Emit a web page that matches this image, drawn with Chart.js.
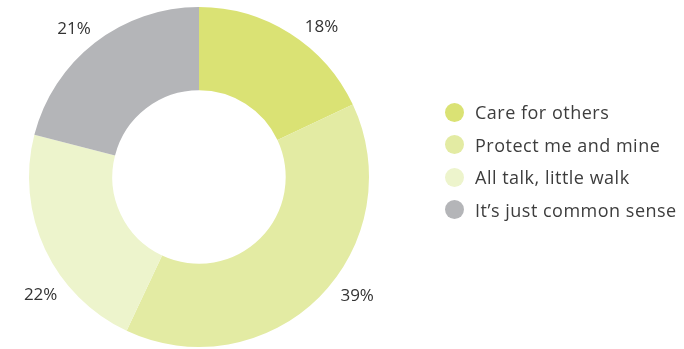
<!DOCTYPE html>
<html>
<head>
<meta charset="utf-8">
<script src="https://cdn.jsdelivr.net/npm/chart.js@4"></script>
<style>
  html, body { margin: 0; padding: 0; background: #fff; }
  #wrap { position: relative; width: 684px; height: 349px; }
  #chart { position: absolute; left: 0; top: 0; }
  #legend { position: absolute; left: 445px; top: 96px; list-style: none; margin: 0; padding: 0;
    font-family: 'Open Sans', sans-serif; font-size: 18px; letter-spacing: 0.5px; color: #3d3d3d; }
  #legend li { height: 32.5px; display: flex; align-items: center; white-space: nowrap; }
  #legend .dot { width: 19px; height: 19px; border-radius: 50%; margin-right: 11px; flex: none; }
</style>
</head>
<body>
<div id="wrap">
  <canvas id="chart" width="684" height="349"></canvas>
  <ul id="legend"></ul>
</div>
<script>
  const LABELS = ['Care for others', 'Protect me and mine', 'All talk, little walk', "It’s just common sense"];
  const VALUES = [18, 39, 22, 21];
  const COLORS = ['#dae274', '#e3eba3', '#edf4cc', '#b4b5b8'];

  /* ── Legend ── */
  const legendEl = document.getElementById('legend');
  LABELS.forEach((name, i) => {
    const li = document.createElement('li');
    li.innerHTML = `<span class="dot" style="background:${COLORS[i]}"></span>`;
    li.appendChild(document.createTextNode(name));
    legendEl.appendChild(li);
  });

  /* ── Chart ── */
  const ctx = document.getElementById('chart').getContext('2d');
  new Chart(ctx, {
    type: 'doughnut',
    data: {
      labels: LABELS,
      datasets: [{
        data: VALUES,
        backgroundColor: COLORS,
        borderWidth: 0,
      }]
    },
    options: {
      responsive: false,
      animation: false,
      cutout: '51%',
      layout: { padding: { left: 29, right: 315, top: 7, bottom: 2 } },
      plugins: {
        legend: { display: false },
        tooltip: { enabled: false }
      }
    },
    // percentage labels outside the ring
    plugins: [{
      id: 'outerLabels',
      afterDatasetsDraw(chart) {
        const { ctx } = chart;
        const nudge = [6.3, -8.8, -10.9, -1.8]; // degrees, to sit labels like the original
        const meta = chart.getDatasetMeta(0);
        meta.data.forEach((arc, i) => {
          const mid = (arc.startAngle + arc.endAngle) / 2 + nudge[i] * Math.PI / 180;
          const r = arc.outerRadius + 26;
          const x = arc.x + Math.cos(mid) * r;
          const y = arc.y + Math.sin(mid) * r + 3;
          ctx.save();
          ctx.fillStyle = '#333';
          ctx.font = '17px "Open Sans"';
          ctx.textAlign = 'center';
          ctx.textBaseline = 'middle';
          ctx.fillText(VALUES[i] + '%', x, y);
          ctx.restore();
        });
      }
    }]
  });
</script>
</body>
</html>
